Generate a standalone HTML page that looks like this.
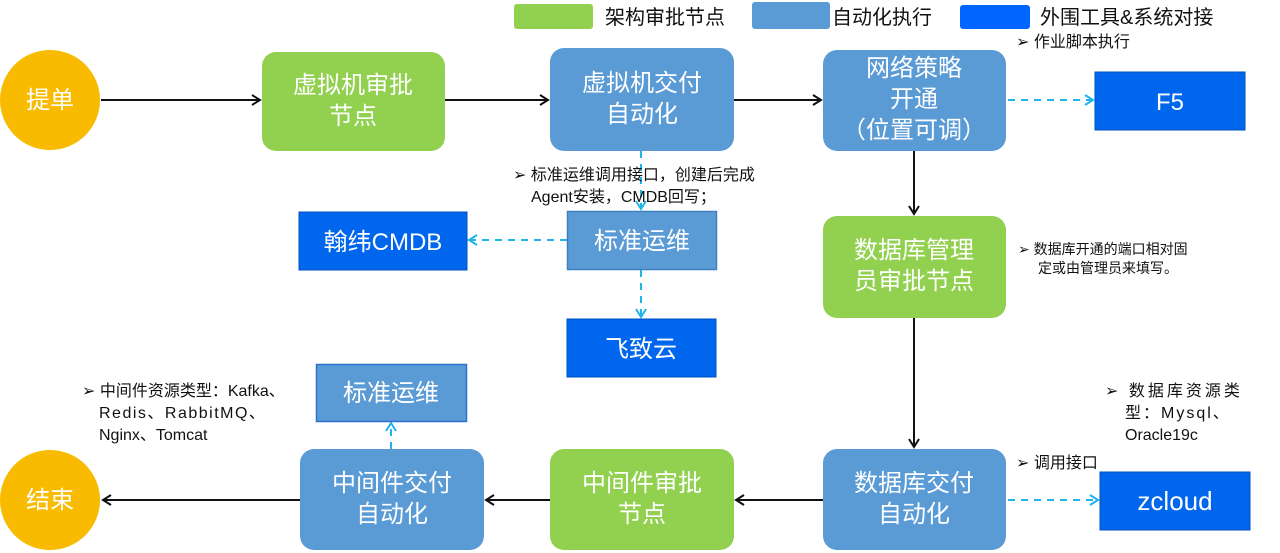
<!DOCTYPE html>
<html><head><meta charset="utf-8"><style>
html,body{margin:0;padding:0;background:#fff;}
svg{display:block;}
text{font-family:"Liberation Sans","Noto Sans CJK SC",sans-serif;}
.n{fill:#fff;font-size:24px;text-anchor:middle;}
.a{fill:#111;font-size:16px;}
</style></head><body>
<svg width="1280" height="553" viewBox="0 0 1280 553" xmlns="http://www.w3.org/2000/svg">
<defs>
<marker id="k" markerWidth="12" markerHeight="12" refX="10" refY="6" orient="auto" markerUnits="userSpaceOnUse"><path d="M2,1 L10,6 L2,11" fill="none" stroke="#111" stroke-width="2"/></marker>
<marker id="c" markerWidth="12" markerHeight="12" refX="10" refY="6" orient="auto" markerUnits="userSpaceOnUse"><path d="M2,1 L10,6 L2,11" fill="none" stroke="#1fb4ea" stroke-width="2"/></marker>
</defs>
<!-- legend -->
<rect x="514" y="4" width="79" height="25" rx="3" fill="#92d050"/>
<text x="605" y="24" style="font-size:20px" fill="#111">架构审批节点</text>
<rect x="752" y="2" width="78" height="27" rx="3" fill="#5b9bd5"/>
<text x="832" y="24" style="font-size:20px" fill="#111">自动化执行</text>
<rect x="960" y="5" width="70" height="24" rx="3" fill="#0066ff"/>
<text x="1040" y="24" style="font-size:20px" fill="#111">外围工具&amp;系统对接</text>

<!-- connectors -->
<g stroke="#111" stroke-width="2" fill="none">
<line x1="101" y1="100" x2="260" y2="100" marker-end="url(#k)"/>
<line x1="445" y1="100" x2="548" y2="100" marker-end="url(#k)"/>
<line x1="734" y1="100" x2="821" y2="100" marker-end="url(#k)"/>
<line x1="914" y1="151" x2="914" y2="214" marker-end="url(#k)"/>
<line x1="914" y1="318" x2="914" y2="447" marker-end="url(#k)"/>
<line x1="823" y1="500" x2="736" y2="500" marker-end="url(#k)"/>
<line x1="550" y1="500" x2="486" y2="500" marker-end="url(#k)"/>
<line x1="300" y1="500" x2="103" y2="500" marker-end="url(#k)"/>
</g>
<g stroke="#1fb4ea" stroke-width="2" fill="none" stroke-dasharray="7,6">
<line x1="1008" y1="100" x2="1093" y2="100" marker-end="url(#c)"/>
<line x1="641" y1="151" x2="641" y2="209" marker-end="url(#c)"/>
<line x1="567" y1="240" x2="469" y2="240" marker-end="url(#c)"/>
<line x1="641" y1="270" x2="641" y2="317" marker-end="url(#c)"/>
<line x1="391" y1="449" x2="391" y2="423" marker-end="url(#c)"/>
<line x1="1008" y1="500" x2="1098" y2="500" marker-end="url(#c)"/>
</g>

<!-- circles -->
<circle cx="50" cy="100" r="50" fill="#f8bb00"/>
<text class="n" x="50" y="108">提单</text>
<circle cx="50" cy="500" r="50" fill="#f8bb00"/>
<text class="n" x="50" y="508">结束</text>

<!-- green -->
<rect x="262" y="52" width="183" height="99" rx="14" fill="#92d050"/>
<text class="n" x="353" y="93">虚拟机审批</text><text class="n" x="353" y="124">节点</text>
<rect x="823" y="216" width="183" height="102" rx="14" fill="#92d050"/>
<text class="n" x="914" y="258">数据库管理</text><text class="n" x="914" y="289">员审批节点</text>
<rect x="550" y="449" width="184" height="101" rx="14" fill="#92d050"/>
<text class="n" x="642" y="491">中间件审批</text><text class="n" x="642" y="522">节点</text>

<!-- blue rounded -->
<rect x="550" y="48" width="184" height="103" rx="14" fill="#5b9bd5"/>
<text class="n" x="642" y="91">虚拟机交付</text><text class="n" x="642" y="122">自动化</text>
<rect x="823" y="50" width="183" height="101" rx="14" fill="#5b9bd5"/>
<text class="n" x="914" y="76">网络策略</text><text class="n" x="914" y="107">开通</text><text class="n" x="914" y="138">（位置可调）</text>
<rect x="823" y="449" width="183" height="101" rx="14" fill="#5b9bd5"/>
<text class="n" x="914" y="491">数据库交付</text><text class="n" x="914" y="522">自动化</text>
<rect x="300" y="449" width="184" height="101" rx="14" fill="#5b9bd5"/>
<text class="n" x="392" y="491">中间件交付</text><text class="n" x="392" y="522">自动化</text>

<!-- 标准运维 -->
<rect x="567.5" y="211.5" width="149" height="58" fill="#5b9bd5" stroke="#3f7fc0" stroke-width="1.5"/>
<text class="n" x="642" y="249">标准运维</text>
<rect x="316.5" y="364.5" width="150" height="57" fill="#5b9bd5" stroke="#2f6fd0" stroke-width="1.5"/>
<text class="n" x="391" y="401">标准运维</text>

<!-- external -->
<rect x="1095" y="72" width="150" height="58" fill="#0066ee" stroke="#0050c0"/>
<text class="n" x="1170" y="110">F5</text>
<rect x="299" y="212" width="168" height="58" fill="#0066ee" stroke="#0050c0"/>
<text class="n" x="383" y="250">翰纬CMDB</text>
<rect x="567" y="319" width="149" height="58" fill="#0066ee" stroke="#0050c0"/>
<text class="n" x="641" y="357">飞致云</text>
<rect x="1100" y="472" width="150" height="58" fill="#0066ee" stroke="#0050c0"/>
<text class="n" x="1175" y="510" style="font-size:26px">zcloud</text>

<!-- annotations -->
<text class="a" x="1016" y="47">➢ 作业脚本执行</text>
<text class="a" x="513" y="180">➢ 标准运维调用接口，创建后完成</text>
<text class="a" x="531" y="202">Agent安装，CMDB回写；</text>
<text class="a" x="1018" y="254" style="font-size:14px">➢  数据库开通的端口相对固</text>
<text class="a" x="1038" y="273" style="font-size:14px">定或由管理员来填写。</text>
<text class="a" x="82" y="396">➢ 中间件资源类型：Kafka、</text>
<text class="a" x="99" y="418" style="letter-spacing:1.5px">Redis、RabbitMQ、</text>
<text class="a" x="99" y="440">Nginx、Tomcat</text>
<text class="a" x="1105" y="396" style="letter-spacing:3px">➢ 数据库资源类</text>
<text class="a" x="1125" y="418" style="letter-spacing:2px">型：Mysql、</text>
<text class="a" x="1125" y="440">Oracle19c</text>
<text class="a" x="1016" y="468">➢ 调用接口</text>
</svg>
</body></html>
